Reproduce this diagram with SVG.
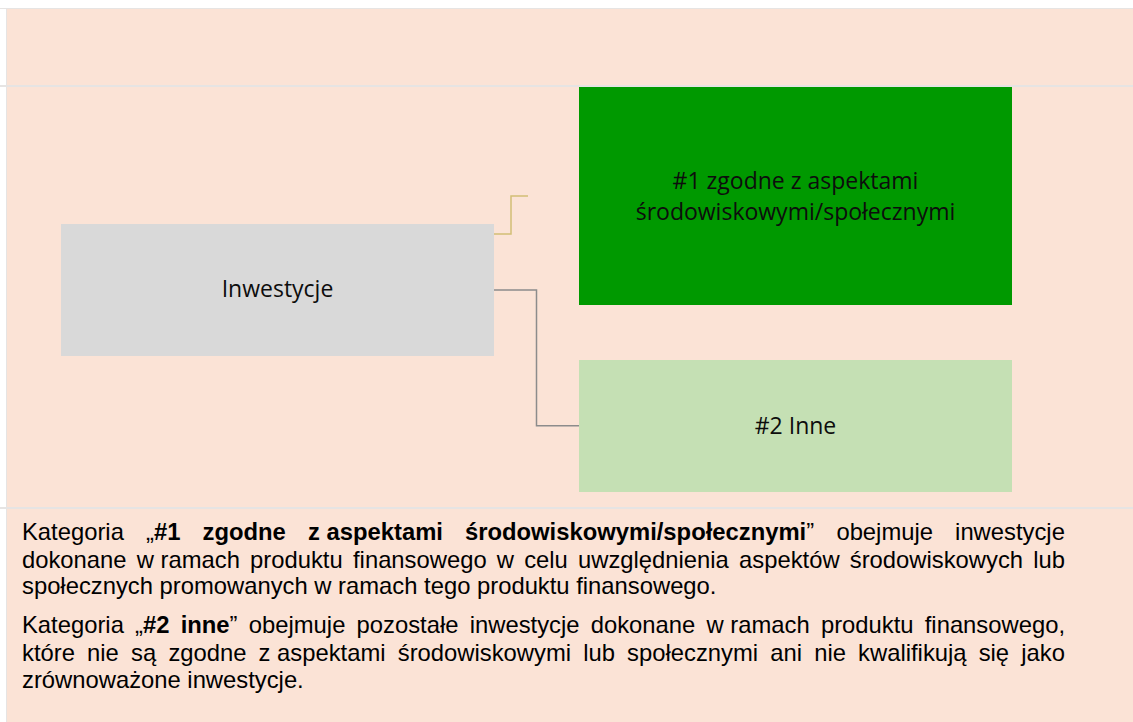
<svg xmlns="http://www.w3.org/2000/svg" width="1133" height="722" viewBox="0 0 1133 722">
<style>
.grid{stroke:#E6E4E3;fill:none}
.node-text{font-family:"Open Sans","Noto Sans",sans-serif;font-size:23px;fill:#0d0d0d;text-anchor:middle}
.para{font-family:"Liberation Sans",Arial,sans-serif;font-size:23.8px;fill:#000}
.b{font-weight:bold}
.conn{fill:none;stroke-width:1.5}
</style>
<rect x="0" y="0" width="1133" height="722" fill="#FFFFFF"/>
<rect x="7" y="9" width="1126" height="713" fill="#FBE3D6"/>
<g id="table-lines">
<line class="grid" x1="0" y1="8.5" x2="1133" y2="8.5" stroke-width="1"/>
<line class="grid" x1="6.5" y1="8" x2="6.5" y2="722" stroke-width="1"/>
<line class="grid" x1="0" y1="86" x2="1133" y2="86" stroke-width="2"/>
<line class="grid" x1="0" y1="508" x2="1133" y2="508" stroke-width="2"/>
</g>
<g id="connectors">
<path class="conn" d="M494,234 H511 V196 H528" stroke="#D2BF76"/>
<path class="conn" d="M494,290 H536.5 V425.7 H579" stroke="#8C8C8C"/>
</g>
<g id="node-inwestycje">
<rect x="61" y="224" width="433" height="132" fill="#D9D9D9"/>
<text class="node-text" x="277.5" y="297">Inwestycje</text>
</g>
<g id="node-1">
<rect x="579" y="87" width="433" height="218" fill="#009900"/>
<text class="node-text" x="795.5" y="189">#1 zgodne z aspektami</text>
<text class="node-text" x="795.5" y="220">środowiskowymi/społecznymi</text>
</g>
<g id="node-2">
<rect x="579" y="360" width="433" height="132" fill="#C5E0B4"/>
<text class="node-text" x="795.5" y="434">#2 Inne</text>
</g>
<g id="description">
<text class="para" y="540"><tspan x="22">Kategoria</tspan><tspan x="146">„</tspan><tspan class="b">#1</tspan><tspan class="b" x="202.5">zgodne</tspan><tspan class="b" x="308">z aspektami</tspan><tspan class="b" x="465">środowiskowymi/społecznymi</tspan><tspan>”</tspan><tspan x="836.4">obejmuje</tspan><tspan x="955.1">inwestycje</tspan></text>
<text class="para" y="567.7"><tspan x="22">dokonane</tspan><tspan x="136.75">w ramach</tspan><tspan x="250.1">produktu</tspan><tspan x="353">finansowego</tspan><tspan x="496.8">w</tspan><tspan x="524.2">celu</tspan><tspan x="578">uwzględnienia</tspan><tspan x="739.1">aspektów</tspan><tspan x="849.8">środowiskowych</tspan><tspan x="1033.3">lub</tspan></text>
<text class="para" x="22" y="594.3">społecznych promowanych w ramach tego produktu finansowego.</text>
<text class="para" y="633.3"><tspan x="22">Kategoria</tspan><tspan x="135.1">„</tspan><tspan class="b">#2</tspan><tspan class="b" x="180.7">inne</tspan><tspan>”</tspan><tspan x="248.8">obejmuje</tspan><tspan x="356.6">pozostałe</tspan><tspan x="469.7">inwestycje</tspan><tspan x="590.7">dokonane</tspan><tspan x="706.5">w ramach</tspan><tspan x="820.9">produktu</tspan><tspan x="924.75">finansowego,</tspan></text>
<text class="para" y="660.7"><tspan x="22">które</tspan><tspan x="87.1">nie</tspan><tspan x="131">są</tspan><tspan x="168.4">zgodne</tspan><tspan x="258.6">z aspektami</tspan><tspan x="397.8">środowiskowymi</tspan><tspan x="583.2">lub</tspan><tspan x="627.1">społecznymi</tspan><tspan x="770.2">ani</tspan><tspan x="814.2">nie</tspan><tspan x="858.1">kwalifikują</tspan><tspan x="978.7">się</tspan><tspan x="1021.3">jako</tspan></text>
<text class="para" x="22" y="688.3">zrównoważone inwestycje.</text>
</g>
</svg>
